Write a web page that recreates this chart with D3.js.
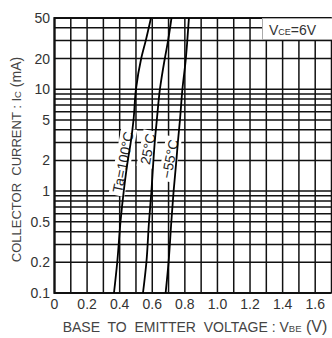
<!DOCTYPE html>
<html>
<head>
<meta charset="utf-8">
<script src="https://cdn.jsdelivr.net/npm/d3@7"></script>
<style>
  body { margin: 0; background: #fff; }
  svg { font-family: "Liberation Sans", Arial, sans-serif; display: block; }
</style>
</head>
<body>
<div id="chart"></div>
<script>
// axis ticks
const vbeTicks = [0, 0.2, 0.4, 0.6, 0.8, 1.0, 1.2, 1.4, 1.6];
const icTicks = [0.1, 0.2, 0.5, 1, 2, 5, 10, 20, 50];

// collector current points (mA) and base-emitter voltage per temperature (V)
const icPoints = [0.1, 0.2, 0.5, 1, 2, 3, 5, 10, 20, 30, 50];
const vbe100 = [0.365, 0.385, 0.405, 0.425, 0.45, 0.468, 0.485, 0.50, 0.532, 0.56, 0.592];
const vbe25 = [0.543, 0.564, 0.58, 0.595, 0.607, 0.615, 0.628, 0.647, 0.677, 0.697, 0.718];
const vbeM55 = [0.682, 0.70, 0.717, 0.731, 0.748, 0.757, 0.77, 0.785, 0.806, 0.815, 0.825];
const seriesNames = ["Ta=100°C", "25°C", "−55°C"];

const W = 332, H = 338;
const svg = d3.select("#chart").append("svg")
  .attr("width", W).attr("height", H);

const x = d3.scaleLinear().domain([0, 1.7]).range([54.5, 331.5]);
const y = d3.scaleLog().domain([0.1, 50]).range([293, 18]);

// grid lines
const vGrid = d3.range(0, 18).map(i => i / 10);
const hGrid = [];
[0.1, 1, 10].forEach(d => { for (let k = 1; k <= 9; k++) { const v = +(d * k).toPrecision(3); if (v <= 50) hGrid.push(v); } });
hGrid.push(50);

const grid = svg.append("g").attr("stroke", "#111").attr("stroke-width", 1.5);
grid.selectAll(".v").data(vGrid).join("line")
  .attr("x1", d => x(d)).attr("x2", d => x(d))
  .attr("y1", y(50)).attr("y2", y(0.1));
grid.selectAll(".h").data(hGrid).join("line")
  .attr("x1", x(0)).attr("x2", x(1.7))
  .attr("y1", d => y(d)).attr("y2", d => y(d));

// frame
svg.append("line").attr("x1", x(0)).attr("x2", x(0)).attr("y1", y(50) - 1).attr("y2", y(0.1) + 1)
  .attr("stroke", "#111").attr("stroke-width", 2.2);
svg.append("line").attr("x1", x(0)).attr("x2", x(1.7)).attr("y1", y(0.1)).attr("y2", y(0.1))
  .attr("stroke", "#111").attr("stroke-width", 2.2);
svg.append("line").attr("x1", x(0)).attr("x2", x(1.7)).attr("y1", y(50)).attr("y2", y(50))
  .attr("stroke", "#111").attr("stroke-width", 2);

// tick labels
svg.append("g").selectAll("text").data(vbeTicks).join("text")
  .attr("x", d => x(d)).attr("y", 309)
  .attr("text-anchor", "middle").attr("font-size", 14).attr("fill", "#333")
  .text(d => d === 0 ? "0" : d.toFixed(1));
svg.append("g").selectAll("text").data(icTicks).join("text")
  .attr("x", 50).attr("y", d => y(d) + 5)
  .attr("text-anchor", "end").attr("font-size", 14).attr("fill", "#333")
  .text(d => d);

// axis titles (non-breaking spaces keep the wide word gaps)
const yt = svg.append("text")
  .attr("transform", `translate(21,${(y(50) + y(0.1)) / 2 + 4}) rotate(-90)`)
  .attr("text-anchor", "middle").attr("font-size", 13).attr("fill", "#444");
yt.append("tspan").text("COLLECTOR\u00a0 CURRENT : I");
yt.append("tspan").attr("font-size", 9.5).text("C");
yt.append("tspan").attr("font-size", 14).text(" (mA)");

const xt = svg.append("text")
  .attr("x", 195).attr("y", 332)
  .attr("text-anchor", "middle").attr("font-size", 14).attr("fill", "#444");
xt.append("tspan").text("BASE\u00a0 TO\u00a0 EMITTER\u00a0 VOLTAGE : V");
xt.append("tspan").attr("font-size", 9.5).text("BE");
xt.append("tspan").attr("font-size", 16).text(" (V)");

// curve labels with white backing
const labelPos = [
  { cx: 123, cy: 162 },
  { cx: 148, cy: 149 },
  { cx: 170, cy: 159 }
];
seriesNames.forEach((name, i) => {
  const g = svg.append("g")
    .attr("transform", `translate(${labelPos[i].cx},${labelPos[i].cy}) rotate(-79)`);
  const t = g.append("text").attr("text-anchor", "middle").attr("dy", "0.35em")
    .attr("font-size", 14).attr("fill", "#222").text(name);
  const bb = t.node().getBBox();
  g.insert("rect", "text")
    .attr("x", bb.x - 3).attr("y", bb.y)
    .attr("width", bb.width + 6).attr("height", bb.height)
    .attr("fill", "#fff");
});

// curves
const line = d3.line()
  .x(d => x(d[0])).y(d => y(d[1]))
  .curve(d3.curveMonotoneY);
[vbe100, vbe25, vbeM55].forEach(vals => {
  svg.append("path")
    .datum(vals.map((v, i) => [v, icPoints[i]]))
    .attr("d", line)
    .attr("fill", "none").attr("stroke", "#000").attr("stroke-width", 1.8);
});

// condition box
svg.append("rect")
  .attr("x", 262.5).attr("y", 18.5).attr("width", 70).attr("height", 21)
  .attr("fill", "#fff").attr("stroke", "#aaa").attr("stroke-width", 1);
const ct = svg.append("text").attr("x", 269).attr("y", 34.5)
  .attr("font-size", 14).attr("fill", "#333");
ct.append("tspan").text("V");
ct.append("tspan").attr("font-size", 9).text("CE");
ct.append("tspan").text("=6V");
</script>
</body>
</html>
